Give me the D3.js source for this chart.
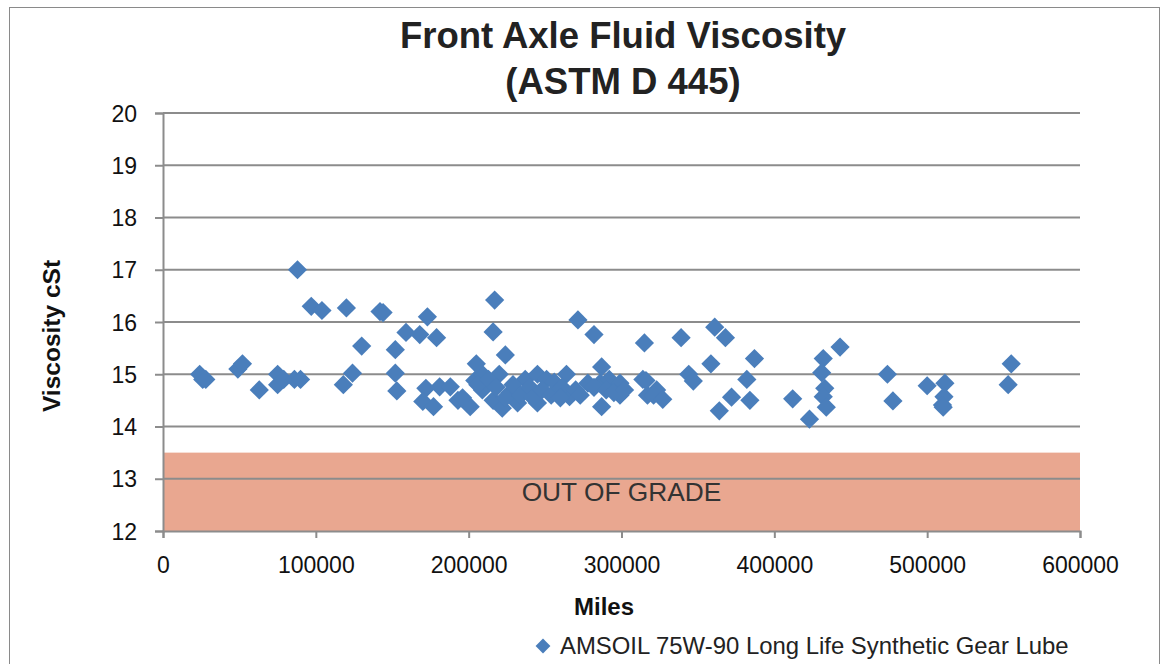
<!DOCTYPE html>
<html><head><meta charset="utf-8">
<script src="https://cdn.jsdelivr.net/npm/d3@7"></script>
<style>body{margin:0;background:#fff}svg{display:block}</style>
</head><body><svg id="c" width="1165" height="664"></svg>
<script>
const miles = [24000,26000,28000,49000,52000,63000,75000,75000,79000,86000,90000,88000,97000,104000,120000,142000,144000,130000,118000,124000,152000,152000,153000,159000,168000,173000,179000,
172000,170000,177000,181000,188000,193000,201000,204000,209000,209000,216000,220000,222000,227000,232000,237000,245000,245000,251000,258000,264000,266000,278000,286000,292000,299000,299000,314000,317000,
196000,206000,213000,218000,224000,229000,234000,240000,242000,248000,254000,256000,261000,270000,273000,282000,290000,295000,302000,260000,
217000,216000,224000,205000,271500,282000,287000,287000,
315000,339000,361000,368000,358500,387000,316000,323000,321000,327000,344000,347000,372000,364000,382000,384000,412000,423000,432000,431000,433000,432000,434000,443000,
474000,477600,500000,511600,511000,510000,510500,555000,553000];
const viscosity = [15.0,14.9,14.9,15.1,15.2,14.7,15.0,14.8,14.9,14.9,14.9,17.0,16.3,16.22,16.27,16.2,16.18,15.54,14.8,15.02,15.47,15.02,14.68,15.8,15.76,16.1,15.7,
14.73,14.48,14.38,14.76,14.76,14.5,14.38,14.88,15.0,14.7,14.5,15.0,14.35,14.64,14.45,14.9,15.0,14.45,14.9,14.64,15.0,14.57,14.83,14.83,14.9,14.83,14.6,14.9,14.6,
14.55,14.8,14.9,14.75,14.55,14.8,14.6,14.75,14.55,14.7,14.6,14.85,14.75,14.7,14.6,14.75,14.7,14.65,14.7,14.55,
16.42,15.81,15.37,15.2,16.04,15.76,15.14,14.38,
15.6,15.7,15.9,15.7,15.2,15.3,14.88,14.7,14.6,14.52,15.0,14.87,14.56,14.3,14.9,14.5,14.53,14.14,15.3,15.03,14.73,14.57,14.37,15.52,
15.0,14.49,14.78,14.83,14.57,14.41,14.37,15.2,14.8];
const xTicks = [0,100000,200000,300000,400000,500000,600000];
const yTicks = [12,13,14,15,16,17,18,19,20];
const outOfGrade = [12, 13.5];
const titleLines = ["Front Axle Fluid Viscosity","(ASTM D 445)"];
const seriesName = "AMSOIL 75W-90 Long Life Synthetic Gear Lube";

const svg = d3.select("#c");
const font = "'Liberation Sans', Arial, sans-serif";
const blue = "#4a7ebb", grid = "#8c8c8c";
const x = d3.scaleLinear().domain([0,600000]).range([163,1080]);
const y = d3.scaleLinear().domain([12,20]).range([531,113]);

svg.append("rect").attr("x",9.5).attr("y",7.5).attr("width",1150).attr("height",670)
  .attr("fill","#fff").attr("stroke","#8a8a8a").attr("stroke-width",1);

// out of grade band
svg.append("rect").attr("x",x(0)).attr("width",x(600000)-x(0))
  .attr("y",y(outOfGrade[1])).attr("height",y(outOfGrade[0])-y(outOfGrade[1]))
  .attr("fill","#e9a790");

// gridlines
svg.append("g").selectAll("line").data(yTicks.filter(d=>d>12)).join("line")
  .attr("x1",x(0)).attr("x2",x(600000)).attr("y1",d=>y(d)).attr("y2",d=>y(d))
  .attr("stroke",grid).attr("stroke-width",2);

svg.append("text").attr("x",(x(0)+x(600000))/2).attr("y",y(12.75)+9)
  .attr("text-anchor","middle").attr("font-family",font).attr("font-size",26.3)
  .attr("fill","#333").text("OUT OF GRADE");

// axes
const yAxis = d3.axisLeft(y).tickValues(yTicks).tickSize(8).tickPadding(18).tickFormat(d3.format("d"));
const gy = svg.append("g").attr("transform",`translate(${x(0)},0)`).call(yAxis);
const xAxis = d3.axisBottom(x).tickValues(xTicks).tickSize(7).tickPadding(19).tickFormat(d3.format("d"));
const gx = svg.append("g").attr("transform",`translate(0,${y(12)})`).call(xAxis);
[gx,gy].forEach(g=>{
  g.select(".domain").attr("stroke",grid).attr("stroke-width",2);
  g.selectAll(".tick line").attr("stroke",grid).attr("stroke-width",2);
  g.selectAll(".tick text").attr("font-family",font).attr("font-size",23).attr("fill","#111");
});
gy.selectAll(".tick text").attr("dy","0.35em");

// points
const sym = d3.symbol().type(d3.symbolSquare).size(185);
svg.append("g").selectAll("path").data(miles.map((m,i)=>[m,viscosity[i]])).join("path")
  .attr("d",sym).attr("fill",blue)
  .attr("transform",d=>`translate(${x(d[0])},${y(d[1])}) rotate(45)`);

// titles
svg.append("text").attr("text-anchor","middle").attr("font-family",font).attr("font-weight","bold")
  .attr("font-size",36.5).attr("fill","#222")
  .selectAll("tspan").data(titleLines).join("tspan")
  .attr("x",623).attr("y",(d,i)=>48+i*46).text(d=>d);

svg.append("text").attr("transform","translate(60,336) rotate(-90)").attr("text-anchor","middle")
  .attr("font-family",font).attr("font-weight","bold").attr("font-size",24.5).attr("fill","#111")
  .text("Viscosity cSt");
svg.append("text").attr("x",604).attr("y",615).attr("text-anchor","middle")
  .attr("font-family",font).attr("font-weight","bold").attr("font-size",24).attr("fill","#111")
  .text("Miles");

// legend
svg.append("path").attr("d",d3.symbol().type(d3.symbolSquare).size(110)())
  .attr("transform","translate(543,646) rotate(45)").attr("fill",blue);
svg.append("text").attr("x",560).attr("y",654).attr("font-family",font).attr("font-size",23.9)
  .attr("fill","#222").text(seriesName);
</script></body></html>
